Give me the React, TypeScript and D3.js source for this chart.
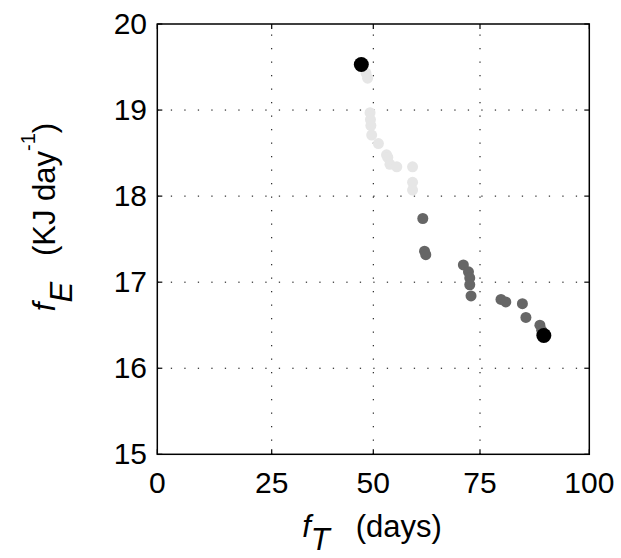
import React, { useEffect, useRef } from "react";
import * as d3 from "d3";

// x tick values (the axis spacing in the figure is uneven, so the scale is piecewise)
const xTicks = [0, 25, 50, 75, 100];
const yTicks = [15, 16, 17, 18, 19, 20];

// early phase (light grey)
const earlyT = [48.2, 48.6, 49.2, 49.3, 49.4, 49.6, 51.2, 53.1, 53.4, 53.9, 55.5, 59.2, 59.2, 59.2];
const earlyE = [19.43, 19.37, 18.97, 18.89, 18.82, 18.71, 18.61, 18.48, 18.45, 18.37, 18.34, 18.34, 18.16, 18.07];

// late phase (dark grey)
const lateT = [61.6, 62.0, 62.3, 71.1, 72.3, 72.6, 72.6, 72.9, 79.8, 80.9, 84.7, 85.5, 88.7, 89.1];
const lateE = [17.74, 17.36, 17.32, 17.2, 17.12, 17.05, 16.97, 16.84, 16.8, 16.77, 16.75, 16.59, 16.5, 16.44];

// start and end points
const endT = [47.05, 89.6];
const endE = [19.53, 16.38];

const App = () => {
  const svgRef = useRef<SVGSVGElement>(null);

  useEffect(() => {
    const width = 621;
    const height = 558;
    const left = 157.3;
    const right = 589.3;
    const top = 24;
    const bottom = 454.3;
    const font = "'Liberation Sans', Arial, sans-serif";

    const svg = d3.select(svgRef.current).attr("width", width).attr("height", height);
    svg.selectAll("*").remove();
    svg.style("font-family", font);

    const x = d3.scaleLinear().domain(xTicks).range([left, 271.7, 373.3, 480, right]);
    const y = d3.scaleLinear().domain([15, 20]).range([bottom, top]);

    svg.append("rect").attr("width", width).attr("height", height).attr("fill", "#fff");

    // grid
    const grid = svg.append("g").attr("stroke", "#000").attr("stroke-width", 1).attr("stroke-dasharray", "1.3,12.2");
    grid
      .selectAll("line.gx")
      .data(xTicks.slice(1, -1))
      .join("line")
      .attr("x1", (d) => x(d))
      .attr("x2", (d) => x(d))
      .attr("y1", bottom)
      .attr("y2", top);
    grid
      .selectAll("line.gy")
      .data(yTicks.slice(1, -1))
      .join("line")
      .attr("x1", left)
      .attr("x2", right)
      .attr("y1", (d) => y(d))
      .attr("y2", (d) => y(d));

    // points
    const dots = (ts: number[], es: number[], r: number, color: string) => {
      svg
        .append("g")
        .selectAll("circle")
        .data(ts.map((t, i) => [t, es[i]]))
        .join("circle")
        .attr("cx", (d) => x(d[0]))
        .attr("cy", (d) => y(d[1]))
        .attr("r", r)
        .attr("fill", color);
    };
    dots(earlyT, earlyE, 5.5, "#e6e6e6");
    dots(lateT, lateE, 5.5, "#666666");
    dots(endT, endE, 7.5, "#000000");

    // frame
    svg
      .append("rect")
      .attr("x", left)
      .attr("y", top)
      .attr("width", right - left)
      .attr("height", bottom - top)
      .attr("fill", "none")
      .attr("stroke", "#000")
      .attr("stroke-width", 1.5);

    // inward ticks
    const tk = svg.append("g").attr("stroke", "#000").attr("stroke-width", 1.2);
    xTicks.forEach((t) => {
      tk.append("line").attr("x1", x(t)).attr("x2", x(t)).attr("y1", bottom).attr("y2", bottom - 5);
      tk.append("line").attr("x1", x(t)).attr("x2", x(t)).attr("y1", top).attr("y2", top + 5);
    });
    yTicks.forEach((t) => {
      tk.append("line").attr("x1", left).attr("x2", left + 5).attr("y1", y(t)).attr("y2", y(t));
      tk.append("line").attr("x1", right).attr("x2", right - 5).attr("y1", y(t)).attr("y2", y(t));
    });

    // tick labels
    svg
      .append("g")
      .selectAll("text")
      .data(xTicks)
      .join("text")
      .attr("x", (d) => x(d))
      .attr("y", 493)
      .attr("text-anchor", "middle")
      .style("font-size", "30px")
      .text((d) => String(d));
    svg
      .append("g")
      .selectAll("text")
      .data(yTicks)
      .join("text")
      .attr("x", 147)
      .attr("y", (d) => y(d) + 10)
      .attr("text-anchor", "end")
      .style("font-size", "30px")
      .text((d) => String(d));

    // x title
    const xt = svg
      .append("text")
      .attr("x", 372)
      .attr("y", 537)
      .attr("text-anchor", "middle")
      .style("font-size", "31px");
    xt.append("tspan").style("font-style", "italic").text("f");
    xt.append("tspan").attr("dy", 13).style("font-style", "italic").text("T");
    xt.append("tspan").attr("dy", -13).text("\u00a0\u00a0\u00a0(days)");

    // y title
    const yt = svg
      .append("text")
      .attr("transform", "translate(55,217) rotate(-90)")
      .attr("text-anchor", "middle")
      .style("font-size", "31px");
    yt.append("tspan").style("font-style", "italic").text("f");
    yt.append("tspan").attr("dy", 17).style("font-style", "italic").text("E");
    yt.append("tspan").attr("dy", -17).text("\u00a0\u00a0\u00a0(KJ day");
    yt.append("tspan").attr("dy", -20).style("font-size", "20px").text("-1");
    yt.append("tspan").attr("dy", 20).text(")");
  }, []);

  return (
    <svg
      ref={svgRef}
      style={{ position: "absolute", left: 0, top: 0, display: "block" }}
    ></svg>
  );
};

export default App;
